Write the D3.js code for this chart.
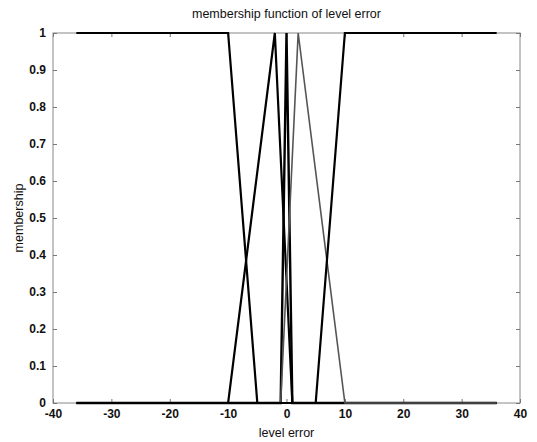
<!DOCTYPE html>
<html>
<head>
<meta charset="utf-8">
<script src="https://d3js.org/d3.v7.min.js"></script>
<style>
body { margin: 0; background: #fff; }
svg { font-family: "Liberation Sans", Arial, sans-serif; }
.tick text { font-size: 12px; font-weight: bold; fill: #111; }
.label { font-size: 12.5px; fill: #111; }
</style>
</head>
<body>
<div id="chart"></div>
<script>
// membership functions of the level error (breakpoints)
var nbX = [-36, -10, -5, 36],      nbY = [1, 1, 0, 0];
var nsX = [-36, -10, -2, 1, 36],   nsY = [0, 0, 1, 0, 0];
var zeX = [-36, -1, 0, 1, 36],     zeY = [0, 0, 1, 0, 0];
var psX = [-36, -1, 2, 10, 36],    psY = [0, 0, 1, 0, 0];
var pbX = [-36, 5, 10, 36],        pbY = [0, 0, 1, 1];

var xTicks = [-40, -30, -20, -10, 0, 10, 20, 30, 40];
var yTicks = [0, 0.1, 0.2, 0.3, 0.4, 0.5, 0.6, 0.7, 0.8, 0.9, 1];

var series = [
  {x: nbX, y: nbY, color: "#000", w: 2.2},
  {x: nsX, y: nsY, color: "#000", w: 2.2},
  {x: zeX, y: zeY, color: "#000", w: 2.4},
  {x: psX, y: psY, color: "#555", w: 1.6},
  {x: pbX, y: pbY, color: "#000", w: 2.2}
];

var W = 537, H = 442;
var margin = {top: 33, right: 17, bottom: 39, left: 53},
    width = W - margin.left - margin.right,
    height = H - margin.top - margin.bottom;

var svg = d3.select("#chart").append("svg")
    .attr("width", W)
    .attr("height", H);

var g = svg.append("g")
    .attr("transform", "translate(" + margin.left + "," + margin.top + ")");

var xScale = d3.scaleLinear().domain([-40, 40]).range([0, width]);
var yScale = d3.scaleLinear().domain([0, 1]).range([height, 0]);

// plain hyphen for negatives, like the original
var fmt = function(d) { return String(+d.toFixed(1)); };

// box
g.append("rect")
  .attr("width", width)
  .attr("height", height)
  .attr("fill", "none")
  .attr("stroke", "#888")
  .attr("stroke-width", 1);

// axes, MATLAB style inward ticks
var xAxis = g.append("g")
  .attr("transform", "translate(0," + height + ")")
  .call(d3.axisBottom(xScale).tickValues(xTicks).tickSizeInner(-4).tickSizeOuter(0).tickPadding(8).tickFormat(fmt));
var xTop = g.append("g")
  .call(d3.axisTop(xScale).tickValues(xTicks).tickSizeInner(-4).tickSizeOuter(0).tickFormat(""));
var yAxis = g.append("g")
  .call(d3.axisLeft(yScale).tickValues(yTicks).tickSizeInner(-4).tickSizeOuter(0).tickPadding(7).tickFormat(fmt));
var yRight = g.append("g")
  .attr("transform", "translate(" + width + ",0)")
  .call(d3.axisRight(yScale).tickValues(yTicks).tickSizeInner(-4).tickSizeOuter(0).tickFormat(""));

[xAxis, xTop, yAxis, yRight].forEach(function(a) {
  a.select(".domain").remove();
  a.selectAll(".tick line").attr("stroke", "#777");
});
xAxis.selectAll(".tick text").attr("dy", "0.6em");

// membership curves
var line = d3.line()
  .x(function(d) { return xScale(d[0]); })
  .y(function(d) { return yScale(d[1]); });

g.selectAll(".mf")
  .data(series)
  .enter()
  .append("path")
  .attr("class", "mf")
  .attr("fill", "none")
  .attr("stroke", function(d) { return d.color; })
  .attr("stroke-width", function(d) { return d.w; })
  .attr("stroke-linejoin", "miter")
  .attr("d", function(d) { return line(d3.zip(d.x, d.y)); });

// labels
svg.append("text")
  .attr("class", "label")
  .attr("x", margin.left + width / 2)
  .attr("y", 18)
  .attr("text-anchor", "middle")
  .text("membership function of level error");

svg.append("text")
  .attr("class", "label")
  .attr("x", margin.left + width / 2)
  .attr("y", 437)
  .attr("text-anchor", "middle")
  .text("level error");

svg.append("text")
  .attr("class", "label")
  .attr("transform", "translate(23," + (margin.top + height / 2) + ")rotate(-90)")
  .attr("text-anchor", "middle")
  .text("membership");
</script>
</body>
</html>
